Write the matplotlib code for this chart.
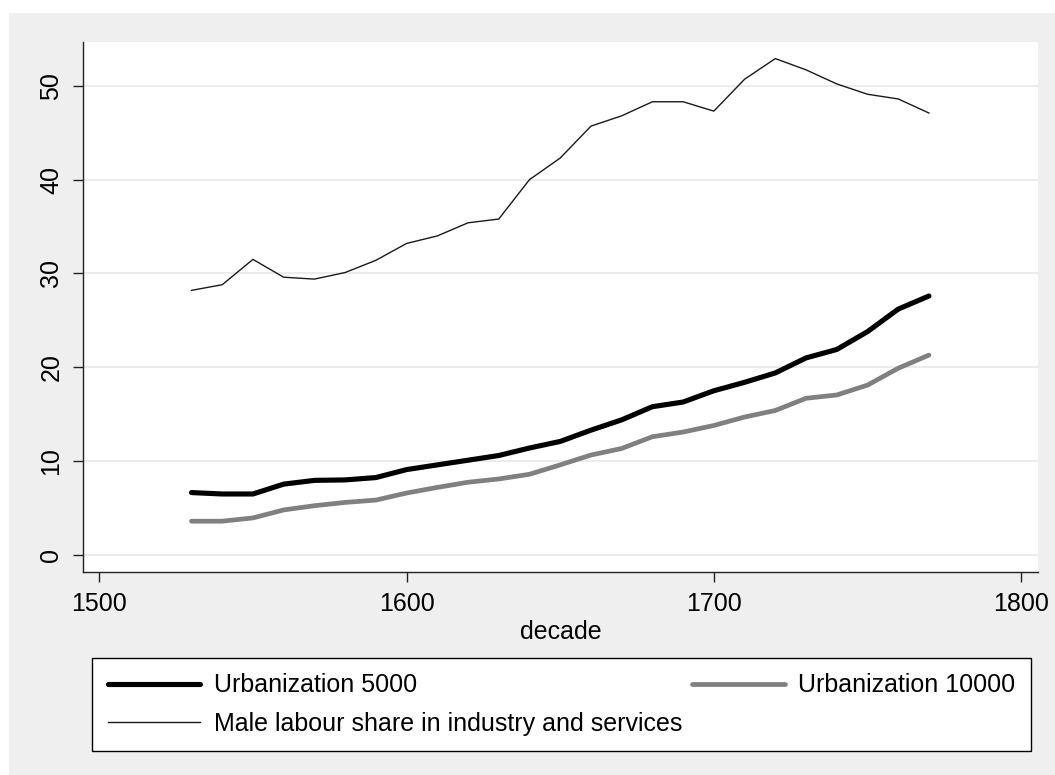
import matplotlib
matplotlib.use("Agg")
import matplotlib.pyplot as plt
from matplotlib.patches import Rectangle

plt.rcParams['font.family'] = ['Liberation Sans', 'DejaVu Sans']

# data
decades = [1530, 1540, 1550, 1560, 1570, 1580, 1590, 1600, 1610, 1620, 1630, 1640, 1650,
           1660, 1670, 1680, 1690, 1700, 1710, 1720, 1730, 1740, 1750, 1760, 1770]
urb5000 = [6.65, 6.5, 6.5, 7.55, 7.95, 8.0, 8.25, 9.1, 9.6, 10.1, 10.6, 11.4, 12.1,
           13.3, 14.4, 15.8, 16.3, 17.5, 18.4, 19.4, 21.0, 21.9, 23.8, 26.2, 27.6]
urb10000 = [3.6, 3.6, 3.95, 4.8, 5.25, 5.6, 5.85, 6.6, 7.2, 7.75, 8.1, 8.6, 9.6,
            10.65, 11.35, 12.6, 13.1, 13.8, 14.7, 15.4, 16.7, 17.05, 18.1, 19.9, 21.3]
male_share = [28.2, 28.8, 31.5, 29.6, 29.4, 30.1, 31.4, 33.2, 34.0, 35.4, 35.8, 40.0, 42.3,
              45.7, 46.8, 48.3, 48.3, 47.3, 50.7, 52.9, 51.7, 50.2, 49.1, 48.6, 47.1]
xticks = [1500, 1600, 1700, 1800]
yticks = [0, 10, 20, 30, 40, 50]

fig = plt.figure(figsize=(10.55, 7.75), dpi=100)
fig.patch.set_facecolor('white')
# stata-like grey graph region
fig.patches.append(Rectangle((9 / 1055, 0), 1 - 9 / 1055, 1 - 13 / 775,
                             transform=fig.transFigure, facecolor='#efefef',
                             edgecolor='none', zorder=-10))

ax = fig.add_axes([0.0784, 0.2615, 0.9055, 0.6847])
ax.set_facecolor('white')

l1, = ax.plot(decades, urb5000, color='black', linewidth=3.7, solid_capstyle='round',
              label='Urbanization 5000')
l2, = ax.plot(decades, urb10000, color='#808080', linewidth=3.4, solid_capstyle='round',
              label='Urbanization 10000')
l3, = ax.plot(decades, male_share, color='#1a1a1a', linewidth=1.0,
              label='Male labour share in industry and services')

ax.set_xlim(1494.6, 1805.5)
ax.set_ylim(-1.85, 54.7)
ax.set_xticks(xticks)
ax.set_yticks(yticks)
ax.grid(True, axis='y', color='#eaeaea', linewidth=1.3)
ax.set_axisbelow(True)
for s in ['top', 'right']:
    ax.spines[s].set_visible(False)
for s in ['left', 'bottom']:
    ax.spines[s].set_color('#222222')
    ax.spines[s].set_linewidth(1.0)
ax.tick_params(axis='both', direction='out', length=7, width=1.0, color='#222222',
               labelsize=18, pad=7)
plt.setp(ax.get_yticklabels(), rotation=90, va='center')
ax.set_xlabel('decade', fontsize=18, labelpad=3)

leg = fig.legend(handles=[l1, l3, l2], ncol=2, loc='upper left',
                 bbox_to_anchor=(92 / 1055, 1 - 658 / 775), fontsize=18,
                 frameon=True, fancybox=False, edgecolor='black', facecolor='white',
                 framealpha=1, handlelength=3.7, handletextpad=0.55, columnspacing=0.4,
                 borderpad=0.62, labelspacing=0.56, borderaxespad=0)
leg.get_frame().set_linewidth(1.0)

fig.savefig('out.png', dpi=100)
